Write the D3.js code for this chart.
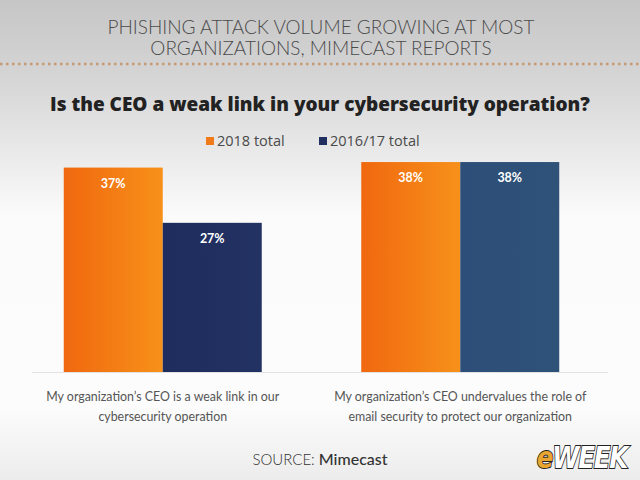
<html>
<head>
  <script src="https://cdn.jsdelivr.net/npm/d3@7"></script>
  <style>
    body { margin: 0; }
  </style>
</head>
<body>
<script>
  // Width and height
  const w = 640;
  const h = 480;

  // Data
  const categories = [
    "My organization\u2019s CEO is a weak link in our|cybersecurity operation",
    "My organization\u2019s CEO undervalues the role of|email security to protect our organization"
  ];
  const series = ["2018 total", "2016/17 total"];
  const values2018 = [37, 38];
  const values2016 = [27, 38];

  const dataset = [];
  categories.forEach(function(c, i) {
    dataset.push({ cat: c, s: series[0], v: values2018[i] });
    dataset.push({ cat: c, s: series[1], v: values2016[i] });
  });

  const svg = d3.select("body").append("svg")
    .attr("width", w)
    .attr("height", h);

  const defs = svg.append("defs");

  // Background gradient
  const bg = defs.append("linearGradient").attr("id", "bg")
    .attr("x1", 0).attr("y1", 0).attr("x2", 0).attr("y2", 1);
  bg.append("stop").attr("offset", "0").attr("stop-color", "#c6c6c6");
  bg.append("stop").attr("offset", "0.17").attr("stop-color", "#d6d6d6");
  bg.append("stop").attr("offset", "0.45").attr("stop-color", "#fbfbfb");
  bg.append("stop").attr("offset", "0.85").attr("stop-color", "#fcfcfc");
  bg.append("stop").attr("offset", "1").attr("stop-color", "#ececec");

  svg.append("rect").attr("width", w).attr("height", h).attr("fill", "url(#bg)");

  // Bar gradients
  function hGrad(id, c0, c1) {
    const g = defs.append("linearGradient").attr("id", id)
      .attr("x1", 0).attr("y1", 0).attr("x2", 1).attr("y2", 0);
    g.append("stop").attr("offset", "0").attr("stop-color", c0);
    g.append("stop").attr("offset", "1").attr("stop-color", c1);
  }
  hGrad("orange", "#f0680f", "#f7911a");
  hGrad("navy", "#1f2c5e", "#223262");
  hGrad("steel", "#2c4e78", "#2f5279");

  const fills = {
    "2018 total": ["url(#orange)", "url(#orange)"],
    "2016/17 total": ["url(#navy)", "url(#steel)"]
  };

  // Header
  const headLines = ["PHISHING ATTACK VOLUME GROWING AT MOST", "ORGANIZATIONS, MIMECAST REPORTS"];
  headLines.forEach(function(l, i) {
    svg.append("text")
      .attr("x", 321).attr("y", 34 + i * 21)
      .attr("text-anchor", "middle")
      .style("font-family", "Lato, 'Open Sans', sans-serif")
      .style("font-weight", 300)
      .style("font-size", "19px")
      .style("fill", "#4a4a4a")
      .text(l);
  });

  // Dotted separator
  svg.append("line")
    .attr("x1", 0).attr("x2", w)
    .attr("y1", 64).attr("y2", 64)
    .attr("stroke", "#c49a70")
    .attr("stroke-width", 2.5)
    .attr("stroke-dasharray", "2.5,3.5");

  // Question title
  svg.append("text")
    .attr("x", 320).attr("y", 111)
    .attr("text-anchor", "middle")
    .style("font-family", "'Open Sans', Lato, sans-serif")
    .style("font-weight", 800)
    .style("font-size", "19px")
    .style("fill", "#222")
    .text("Is the CEO a weak link in your cybersecurity operation?");

  // Scales
  const xScale = d3.scaleBand()
    .domain(categories)
    .range([14, 609])
    .padding(0);

  const xInner = d3.scaleBand()
    .domain(series)
    .range([0, xScale.bandwidth()])
    .paddingOuter(0.5025)
    .paddingInner(0);

  const yScale = d3.scaleLinear()
    .domain([0, 40])
    .range([372, 151]);

  // Baseline
  svg.append("line")
    .attr("x1", 32).attr("x2", 608)
    .attr("y1", 372.5).attr("y2", 372.5)
    .attr("stroke", "#e2e2e2")
    .attr("stroke-width", 1);

  // Bars
  svg.selectAll("rect.bar")
    .data(dataset)
    .enter()
    .append("rect")
    .attr("class", "bar")
    .attr("x", function(d) { return xScale(d.cat) + xInner(d.s); })
    .attr("y", function(d) { return yScale(d.v); })
    .attr("width", xInner.bandwidth())
    .attr("height", function(d) { return yScale(0) - yScale(d.v); })
    .attr("fill", function(d) { return fills[d.s][categories.indexOf(d.cat)]; });

  // Value labels
  svg.selectAll("text.val")
    .data(dataset)
    .enter()
    .append("text")
    .attr("class", "val")
    .attr("x", function(d) { return xScale(d.cat) + xInner(d.s) + xInner.bandwidth() / 2; })
    .attr("y", function(d) { return yScale(d.v) + 20; })
    .attr("text-anchor", "middle")
    .style("font-family", "Lato, 'Open Sans', sans-serif")
    .style("font-weight", 700)
    .style("font-size", "12.5px")
    .style("fill", "#ffffff")
    .text(function(d) { return d.v + "%"; });

  // Category labels
  categories.forEach(function(c) {
    const lines = c.split("|");
    const t = svg.append("text")
      .attr("x", xScale(c) + xScale.bandwidth() / 2)
      .attr("y", 401)
      .attr("text-anchor", "middle")
      .style("font-family", "Lato, 'Open Sans', sans-serif")
      .style("font-size", "12.4px")
      .style("fill", "#555");
    lines.forEach(function(l, i) {
      t.append("tspan")
        .attr("x", xScale(c) + xScale.bandwidth() / 2)
        .attr("dy", i === 0 ? 0 : 20)
        .text(l);
    });
  });

  // Legend
  const legendX = [206, 319];
  const legendColors = ["#f07a18", "#22305f"];
  series.forEach(function(s, i) {
    svg.append("rect")
      .attr("x", legendX[i]).attr("y", 137)
      .attr("width", 8).attr("height", 8)
      .attr("fill", legendColors[i]);
    svg.append("text")
      .attr("x", legendX[i] + 11).attr("y", 146)
      .style("font-family", "'Open Sans', Lato, sans-serif")
      .style("font-size", "14.5px")
      .style("fill", "#4a4a4a")
      .text(s);
  });

  // Source
  const src = svg.append("text")
    .attr("x", 320).attr("y", 465)
    .attr("text-anchor", "middle")
    .style("font-family", "Lato, 'Open Sans', sans-serif")
    .style("font-size", "15px")
    .style("fill", "#333");
  src.append("tspan").style("font-weight", 300).text("SOURCE: ");
  src.append("tspan").style("font-weight", 500).style("font-size", "16px").text("Mimecast");

  // eWEEK logo
  const logo = svg.append("text")
    .attr("transform", "translate(582,468) scale(0.82,1)")
    .attr("text-anchor", "middle")
    .style("font-family", "'DejaVu Sans', sans-serif")
    .style("font-weight", 700)
    .style("font-style", "italic")
    .style("font-size", "30px")
    .style("letter-spacing", "-1.5px")
    .attr("stroke", "#222")
    .attr("stroke-width", 1.8)
    .attr("paint-order", "stroke");
  logo.append("tspan").attr("fill", "#e8a530").text("e");
  logo.append("tspan").attr("fill", "#ffffff").text("WEEK");
</script>
</body>
</html>
